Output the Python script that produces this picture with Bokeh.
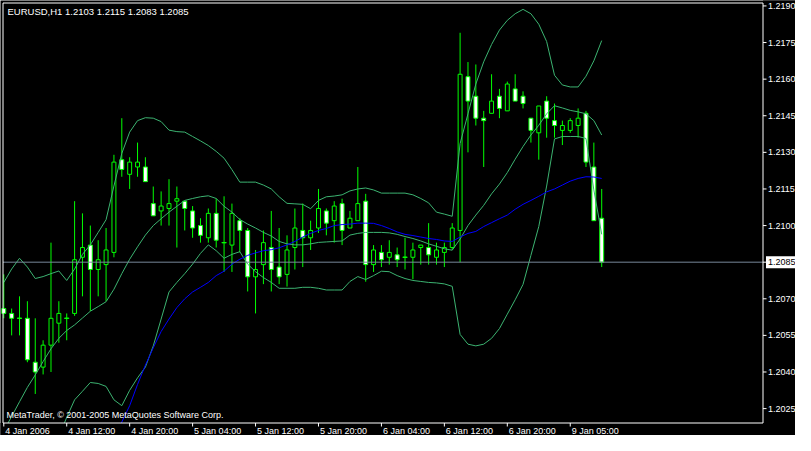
import numpy as np
from bokeh.plotting import figure
from bokeh.models import Range1d, Label, ColumnDataSource
from bokeh.embed import file_html
from bokeh.resources import INLINE
from bokeh.core.properties import value

NaN = float("nan")

# ---------------- data (EURUSD, H1) ----------------
bars = list(range(77))

open_ = [1.2066, 1.2064, 1.2062, 1.2062, 1.2044, 1.2042, 1.2051, 1.2060, 1.2062, 1.2064,
         1.2087, 1.2092, 1.2082, 1.2084, 1.2089, 1.2127, 1.2121, 1.2124, 1.2124, 1.2109,
         1.2106, 1.2107, 1.2110, 1.2110, 1.2106, 1.2100, 1.2095, 1.2105, 1.2093, 1.2092,
         1.2102, 1.2098, 1.2079, 1.2084, 1.2091, 1.2083, 1.2080, 1.2091, 1.2098, 1.2095,
         1.2099, 1.2106, 1.2102, 1.2109, 1.2099, 1.2102, 1.2110, 1.2084, 1.2089, 1.2087,
         1.2088, 1.2087, 1.2087, 1.2091, 1.2091, 1.2087, 1.2089, 1.2091, 1.2098, 1.2161,
         1.2153, 1.2144, 1.2146, 1.2153, 1.2147, 1.2156, 1.2153, 1.2144, 1.2138, 1.2151,
         1.2143, 1.2139, 1.2139, 1.2141, 1.2146, 1.2124, 1.2103]

high = [1.2080, 1.2066, 1.2071, 1.2069, 1.2062, 1.2053, 1.2093, 1.2069, 1.2064, 1.2110,
        1.2105, 1.2100, 1.2094, 1.2099, 1.2129, 1.2144, 1.2128, 1.2134, 1.2128, 1.2116,
        1.2114, 1.2119, 1.2116, 1.2110, 1.2108, 1.2103, 1.2107, 1.2111, 1.2112, 1.2109,
        1.2103, 1.2099, 1.2090, 1.2098, 1.2106, 1.2099, 1.2096, 1.2107, 1.2109, 1.2102,
        1.2115, 1.2107, 1.2110, 1.2111, 1.2106, 1.2124, 1.2113, 1.2092, 1.2092, 1.2094,
        1.2091, 1.2095, 1.2093, 1.2092, 1.2101, 1.2093, 1.2093, 1.2101, 1.2179, 1.2167,
        1.2166, 1.2147, 1.2162, 1.2156, 1.2159, 1.2162, 1.2155, 1.2144, 1.2149, 1.2153,
        1.2150, 1.2143, 1.2144, 1.2148, 1.2147, 1.2134, 1.2115]

low = [1.2062, 1.2055, 1.2055, 1.2044, 1.2031, 1.2039, 1.2040, 1.2052, 1.2053, 1.2063,
       1.2071, 1.2065, 1.2071, 1.2069, 1.2087, 1.2120, 1.2115, 1.2120, 1.2118, 1.2104,
       1.2100, 1.2100, 1.2091, 1.2098, 1.2095, 1.2093, 1.2093, 1.2091, 1.2081, 1.2081,
       1.2089, 1.2073, 1.2064, 1.2076, 1.2073, 1.2076, 1.2075, 1.2082, 1.2083, 1.2090,
       1.2097, 1.2096, 1.2093, 1.2092, 1.2099, 1.2102, 1.2077, 1.2081, 1.2083, 1.2084,
       1.2083, 1.2082, 1.2078, 1.2084, 1.2084, 1.2084, 1.2083, 1.2090, 1.2085, 1.2130,
       1.2141, 1.2124, 1.2146, 1.2144, 1.2147, 1.2151, 1.2148, 1.2134, 1.2127, 1.2136,
       1.2136, 1.2133, 1.2138, 1.2136, 1.2124, 1.2102, 1.2083]

close = [1.2064, 1.2062, 1.2062, 1.2045, 1.2040, 1.2051, 1.2062, 1.2064, 1.2062, 1.2086,
         1.2091, 1.2082, 1.2086, 1.2090, 1.2126, 1.2123, 1.2126, 1.2126, 1.2118, 1.2104,
         1.2108, 1.2109, 1.2111, 1.2107, 1.2099, 1.2096, 1.2105, 1.2094, 1.2093, 1.2105,
         1.2098, 1.2079, 1.2082, 1.2093, 1.2082, 1.2079, 1.2090, 1.2099, 1.2095, 1.2098,
         1.2107, 1.2101, 1.2108, 1.2098, 1.2103, 1.2109, 1.2084, 1.2090, 1.2086, 1.2089,
         1.2086, 1.2087, 1.2090, 1.2092, 1.2088, 1.2090, 1.2091, 1.2099, 1.2162, 1.2151,
         1.2144, 1.2143, 1.2151, 1.2148, 1.2158, 1.2151, 1.2150, 1.2139, 1.2149, 1.2144,
         1.2141, 1.2141, 1.2143, 1.2144, 1.2126, 1.2102, 1.2085]

bb_upper = [1.20767, 1.20822, 1.20866, 1.20830, 1.20783, 1.20791, 1.20803, 1.20814, 1.20775, 1.20822,
            1.20882, 1.20921, 1.20972, 1.21024, 1.21162, 1.21296, 1.21383, 1.21430, 1.21442, 1.21440,
            1.21426, 1.21391, 1.21385, 1.21383, 1.21365, 1.21347, 1.21328, 1.21304, 1.21276, 1.21229,
            1.21178, 1.21178, 1.21178, 1.21166, 1.21150, 1.21118, 1.21091, 1.21089, 1.21087, 1.21069,
            1.21103, 1.21118, 1.21121, 1.21126, 1.21142, 1.21150, 1.21154, 1.21146, 1.21133, 1.21133,
            1.21133, 1.21133, 1.21126, 1.21111, 1.21093, 1.21055, 1.21047, 1.21038, 1.21336, 1.21458,
            1.21580, 1.21671, 1.21742, 1.21801, 1.21841, 1.21868, 1.21886, 1.21868, 1.21825, 1.21754,
            1.21616, 1.21576, 1.21568, 1.21568, 1.21612, 1.21675, 1.21758]

bb_middle = [1.20159, 1.20218, 1.20278, 1.20337, 1.20388, 1.20443, 1.20495, 1.20538, 1.20570, 1.20593,
             1.20621, 1.20649, 1.20668, 1.20688, 1.20739, 1.20803, 1.20862, 1.20913, 1.20961, 1.21000,
             1.21028, 1.21055, 1.21079, 1.21103, 1.21111, 1.21118, 1.21122, 1.21111, 1.21079, 1.21055,
             1.21025, 1.21006, 1.20990, 1.20972, 1.20957, 1.20935, 1.20925, 1.20921, 1.20921, 1.20925,
             1.20931, 1.20933, 1.20935, 1.20937, 1.20961, 1.20968, 1.20972, 1.20972, 1.20972, 1.20970,
             1.20964, 1.20955, 1.20947, 1.20937, 1.20925, 1.20915, 1.20905, 1.20899, 1.20945, 1.21000,
             1.21043, 1.21083, 1.21130, 1.21170, 1.21217, 1.21272, 1.21324, 1.21371, 1.21411, 1.21458,
             1.21491, 1.21482, 1.21472, 1.21466, 1.21458, 1.21430, 1.21371]

bb_lower = [NaN, NaN, NaN, NaN, NaN, NaN, NaN, 1.20136, 1.20214, 1.20286,
            1.20321, 1.20357, 1.20353, 1.20341, 1.20286, 1.20262, 1.20325, 1.20376, 1.20420, 1.20507,
            1.20617, 1.20728, 1.20767, 1.20803, 1.20842, 1.20886, 1.20921, 1.20897, 1.20866, 1.20882,
            1.20893, 1.20842, 1.20811, 1.20787, 1.20767, 1.20743, 1.20743, 1.20743, 1.20747, 1.20747,
            1.20743, 1.20736, 1.20736, 1.20736, 1.20771, 1.20791, 1.20779, 1.20795, 1.20813, 1.20811,
            1.20795, 1.20783, 1.20775, 1.20771, 1.20767, 1.20765, 1.20761, 1.20751, 1.20554, 1.20514,
            1.20507, 1.20514, 1.20538, 1.20578, 1.20637, 1.20696, 1.20759, 1.20878, 1.20996, 1.21162,
            1.21355, 1.21365, 1.21365, 1.21365, 1.21357, 1.21146, 1.20964]

ma = [NaN, NaN, NaN, NaN, NaN, NaN, NaN, NaN, NaN, NaN,
      NaN, NaN, NaN, NaN, 1.20120, 1.20195, 1.20262, 1.20349, 1.20428, 1.20499,
      1.20566, 1.20617, 1.20664, 1.20700, 1.20728, 1.20747, 1.20767, 1.20795, 1.20813, 1.20842,
      1.20862, 1.20878, 1.20888, 1.20897, 1.20901, 1.20909, 1.20921, 1.20935, 1.20953, 1.20968,
      1.20980, 1.20988, 1.21000, 1.21004, 1.21006, 1.21010, 1.21010, 1.21009, 1.21000, 1.20988,
      1.20974, 1.20964, 1.20959, 1.20953, 1.20947, 1.20943, 1.20937, 1.20935, 1.20953, 1.20968,
      1.20976, 1.20996, 1.21012, 1.21028, 1.21043, 1.21067, 1.21087, 1.21103, 1.21120, 1.21138,
      1.21150, 1.21166, 1.21182, 1.21193, 1.21200, 1.21199, 1.21193]

x_tick_bars = [0, 8, 16, 24, 32, 40, 48, 56, 64, 72]
x_tick_labels = ["4 Jan 2006", "4 Jan 12:00", "4 Jan 20:00", "5 Jan 04:00", "5 Jan 12:00",
                 "5 Jan 20:00", "6 Jan 04:00", "6 Jan 12:00", "6 Jan 20:00", "9 Jan 05:00"]
y_ticks = [1.2025, 1.2040, 1.2055, 1.2070, 1.2085, 1.2100,
           1.2115, 1.2130, 1.2145, 1.2160, 1.2175, 1.2190]
title_text = "EURUSD,H1  1.2103 1.2115 1.2083 1.2085"
copyright_text = "MetaTrader, \u00a9 2001-2005 MetaQuotes Software Corp."
last_price = 1.2085

# ---------------- layout ----------------
W, H = 795, 435
CHART_L, CHART_T, CHART_R, CHART_B = 2.5, 2.5, 762.5, 422.5   # chart box on the canvas (px)
X0, X1 = -0.1, 96.5             # chart x extent (bar index)
Y0, Y1 = 1.20191, 1.21912       # chart y extent (price)
FONT = "Liberation Sans"
FS = "9px"
GREEN = "#00FF00"
BAND = "#3CB371"

ppb = (CHART_R - CHART_L) / (X1 - X0)
ppy = (CHART_B - CHART_T) / (Y1 - Y0)

p = figure(width=W, height=H, output_backend="svg", toolbar_location=None,
           x_range=Range1d(X0 - CHART_L / ppb, X1 + (W - CHART_R) / ppb),
           y_range=Range1d(Y0 - (H - CHART_B) / ppy, Y1 + CHART_T / ppy),
           x_axis_location=None, y_axis_location=None,
           min_border_left=0, min_border_top=0, min_border_right=0, min_border_bottom=0,
           background_fill_color="black", border_fill_color="black",
           outline_line_color=None)
p.grid.visible = False

# candles
top = [max(o, c) for o, c in zip(open_, close)]
bottom = [min(o, c) for o, c in zip(open_, close)]
fill = ["white" if c < o else "black" for o, c in zip(open_, close)]
src = ColumnDataSource(dict(x=bars, high=high, low=low, top=top, bottom=bottom, fill=fill))
p.segment(x0="x", y0="low", x1="x", y1="high", line_color=GREEN, line_width=1, source=src)
p.vbar(x="x", width=0.5, top="top", bottom="bottom", fill_color="fill",
       line_color=GREEN, line_width=1, source=src)
dj = [i for i in bars if open_[i] == close[i]]
p.segment(x0=[i - 0.32 for i in dj], y0=[open_[i] for i in dj],
          x1=[i + 0.32 for i in dj], y1=[close[i] for i in dj],
          line_color=GREEN, line_width=1)

# indicators
p.line(bars, np.array(bb_upper), line_color=BAND, line_width=1)
p.line(bars, np.array(bb_middle), line_color=BAND, line_width=1)
p.line(bars, np.array(bb_lower), line_color=BAND, line_width=1)
p.line(bars, np.array(ma), line_color="#0000FF", line_width=1)

# mask everything outside the chart box (bars/bands that run off the chart)
p.quad(left=[X0 - 10], right=[X1 + 10], top=[Y0], bottom=[Y0 - 1],
       fill_color="black", line_color=None)
p.quad(left=[X1], right=[X1 + 10], top=[Y1 + 1], bottom=[Y0 - 1],
       fill_color="black", line_color=None)

# bid line
p.segment(x0=[X0], y0=[last_price], x1=[X1], y1=[last_price],
          line_color="#778899", line_width=1)

# chart box
p.segment(x0=[X0, X0, X1, X0], y0=[Y1, Y0, Y0, Y0], x1=[X1, X0, X1, X1], y1=[Y1, Y1, Y1, Y0],
          line_color="white", line_width=1)

# time scale
p.segment(x0=x_tick_bars, y0=[Y0] * len(x_tick_bars), x1=x_tick_bars,
          y1=[Y0 - 3.5 / ppy] * len(x_tick_bars), line_color="white", line_width=1)
p.text(x=[k + 1.5 / ppb for k in x_tick_bars], y=[Y0 - 3 / ppy] * len(x_tick_bars),
       text=x_tick_labels, text_color="white", text_font=value(FONT),
       text_font_size=value(FS), text_align="left", text_baseline="top")

# price scale
p.segment(x0=[X1] * len(y_ticks), y0=y_ticks, x1=[X1 + 3.5 / ppb] * len(y_ticks), y1=y_ticks,
          line_color="white", line_width=1)
scale_ticks = [t for t in y_ticks if t != last_price]
p.text(x=[X1 + 5 / ppb] * len(scale_ticks), y=scale_ticks,
       text=["%.4f" % t for t in scale_ticks],
       text_color="white", text_font=value(FONT), text_font_size=value(FS),
       text_align="left", text_baseline="middle")
p.quad(left=[X1 + 3 / ppb], right=[X1 + 60 / ppb],
       top=[last_price + 6 / ppy], bottom=[last_price - 6 / ppy],
       fill_color="white", line_color=None)
p.text(x=[X1 + 5 / ppb], y=[last_price], text=["%.4f" % last_price],
       text_color="black", text_font=value(FONT), text_font_size=value(FS),
       text_align="left", text_baseline="middle")

# texts in the chart
p.add_layout(Label(x=X0 + 4.5 / ppb, y=Y1 - 3 / ppy, text=title_text,
                   text_baseline="top", text_color="white",
                   text_font=FONT, text_font_size="9.5px"))
p.add_layout(Label(x=X0 + 3.5 / ppb, y=Y0 + 8 / ppy, text=copyright_text,
                   text_baseline="alphabetic", text_color="white",
                   text_font=FONT, text_font_size=FS))

open("out.html", "w").write(file_html(p, INLINE))
